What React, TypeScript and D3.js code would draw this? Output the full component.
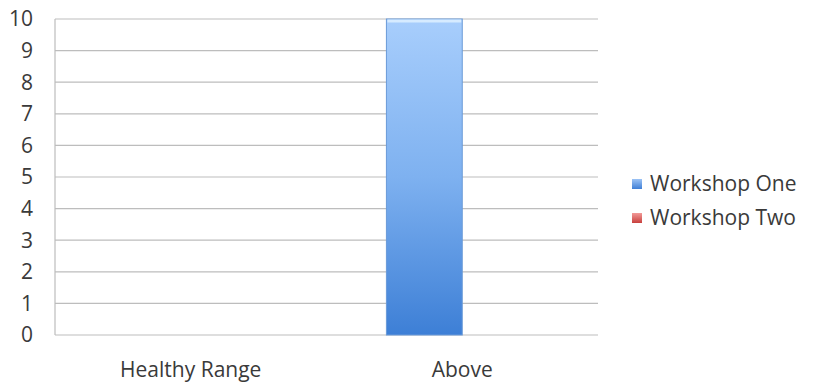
import React from "react";
import * as d3 from "d3";

const categories = ["Healthy Range", "Above"];
const seriesNames = ["Workshop One", "Workshop Two"];
const workshopOne = [0, 10];
const workshopTwo = [0, 0];
const yTicks = [0, 1, 2, 3, 4, 5, 6, 7, 8, 9, 10];

const W = 813;
const H = 387;
const margin = { top: 19, right: 215, bottom: 52, left: 55 };
const FONT = "'Open Sans', 'Liberation Sans', sans-serif";
const FS = 21;

export default function App() {
  const x = d3
    .scaleBand<string>()
    .domain(categories)
    .range([margin.left, W - margin.right]);
  const inner = d3
    .scaleBand<string>()
    .domain(seriesNames)
    .range([0, x.bandwidth()])
    .paddingInner(0)
    .paddingOuter(0.79);
  const y = d3
    .scaleLinear()
    .domain([0, 10])
    .range([H - margin.bottom, margin.top]);

  const series = [
    { name: seriesNames[0], values: workshopOne, fill: "url(#g1)", stroke: "#6a9ad8", swatch: "url(#sw1)" },
    { name: seriesNames[1], values: workshopTwo, fill: "url(#g2)", stroke: "#c0504d", swatch: "url(#sw2)" },
  ];

  return (
    <svg width={W} height={H} style={{ position: "absolute", left: 0, top: 0 }}>
      <defs>
        <linearGradient id="g1" x1="0" y1="0" x2="0" y2="1">
          <stop offset="0%" stopColor="#a8cefc" />
          <stop offset="50%" stopColor="#7eb1f0" />
          <stop offset="100%" stopColor="#3d7fd6" />
        </linearGradient>
        <linearGradient id="g2" x1="0" y1="0" x2="0" y2="1">
          <stop offset="0%" stopColor="#f4a9a7" />
          <stop offset="100%" stopColor="#c0504d" />
        </linearGradient>
        <linearGradient id="sw1" x1="0" y1="0" x2="0" y2="1">
          <stop offset="0%" stopColor="#9cc3f5" />
          <stop offset="100%" stopColor="#3f7fd6" />
        </linearGradient>
        <linearGradient id="sw2" x1="0" y1="0" x2="0" y2="1">
          <stop offset="0%" stopColor="#f29a98" />
          <stop offset="100%" stopColor="#c8403d" />
        </linearGradient>
      </defs>
      <rect width={W} height={H} fill="#ffffff" />

      {yTicks.map((t) => (
        <g key={t}>
          <line
            x1={margin.left}
            x2={W - margin.right}
            y1={y(t)}
            y2={y(t)}
            stroke="#bdbdbd"
            strokeWidth={1.2}
          />
          <text
            x={33}
            y={y(t)}
            dy="0.35em"
            textAnchor="end"
            fontFamily={FONT}
            fontSize={FS}
            fill="#3a3a3a"
          >
            {t}
          </text>
        </g>
      ))}
      <line
        x1={margin.left}
        x2={margin.left}
        y1={y(10)}
        y2={y(0)}
        stroke="#bdbdbd"
        strokeWidth={1.2}
      />

      {series.map((s) =>
        categories.map((c, i) => {
          const v = s.values[i];
          if (!v) return null;
          const bx = (x(c) ?? 0) + (inner(s.name) ?? 0);
          return (
            <g key={s.name + c}>
              <rect
                x={bx}
                y={y(v)}
                width={inner.bandwidth()}
                height={y(0) - y(v)}
                fill={s.fill}
                stroke={s.stroke}
                strokeWidth={1}
              />
              <rect
                x={bx + 1}
                y={y(v) + 0.5}
                width={inner.bandwidth() - 2}
                height={3}
                fill="#d6ebff"
              />
            </g>
          );
        })
      )}

      {categories.map((c) => (
        <text
          key={c}
          x={(x(c) ?? 0) + x.bandwidth() / 2}
          y={377}
          textAnchor="middle"
          fontFamily={FONT}
          fontSize={FS}
          fill="#3a3a3a"
        >
          {c}
        </text>
      ))}

      {series.map((s, i) => (
        <g key={s.name} transform={`translate(632, ${184 + i * 34})`}>
          <rect x={0} y={-5} width={10} height={10} fill={s.swatch} />
          <text
            x={18}
            y={0}
            dy="0.35em"
            fontFamily={FONT}
            fontSize={FS}
            fill="#3a3a3a"
          >
            {s.name}
          </text>
        </g>
      ))}
    </svg>
  );
}
